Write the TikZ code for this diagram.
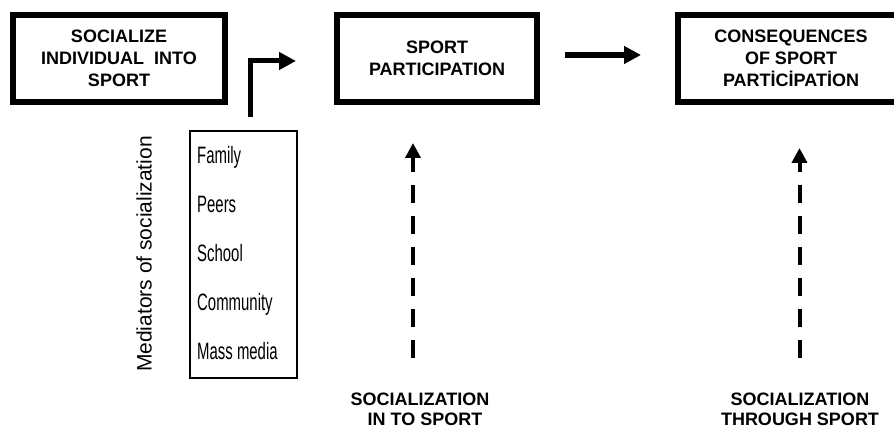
\documentclass[tikz,border=0pt]{standalone}
\usepackage{fontspec}
\setmainfont{Liberation Sans}
\usepackage{graphicx}
\usetikzlibrary{arrows.meta}
\tikzset{
  mainbox/.style={draw, line width=6pt, minimum height=87pt, align=center,
    font=\fontsize{18}{22}\selectfont\bfseries, inner sep=0pt},
  capt/.style={align=center, font=\fontsize{18}{20}\selectfont\bfseries, inner sep=0pt, anchor=north},
  medbox/.style={draw, line width=2.5pt, minimum width=107pt, minimum height=247pt, inner sep=0pt},
  item/.style={anchor=base west, inner sep=0pt, font=\fontsize{23.7}{24}\selectfont},
  thickarrow/.style={line width=5pt, line join=miter, -{Triangle[length=17pt,width=17pt]}},
  dasharrow/.style={line width=4pt, dash pattern=on 18pt off 13pt, -{Triangle[length=15pt,width=15pt]}}
}
\newcommand{\squeeze}[1]{\scalebox{0.63}[1]{#1}}
\begin{document}
\begin{tikzpicture}[x=1pt,y=1pt]
\useasboundingbox (0,0) rectangle (894,433);
\clip (0,0) rectangle (894,433);
% main boxes
\node[mainbox, minimum width=212pt] (b1) at (119,374.5) {SOCIALIZE\\INDIVIDUAL\ \ INTO\\SPORT};
\node[mainbox, minimum width=200pt] (b2) at (437,374.5) {SPORT\\PARTICIPATION};
\node[mainbox, minimum width=226pt] (b3) at (791,374.5) {CONSEQUENCES\\OF SPORT\\PARTİCİPATİON};
% mediators box
\node[medbox] (med) at (243.5,178.5) {};
\node[item] (i1) at (197,269) {\squeeze{Family}};
\node[item] (i2) at (197,220) {\squeeze{Peers}};
\node[item] (i3) at (197,171) {\squeeze{School}};
\node[item] (i4) at (197,122) {\squeeze{Community}};
\node[item] (i5) at (197,73) {\squeeze{Mass media}};
\node[rotate=90, inner sep=0pt, font=\fontsize{21}{21}\selectfont] (lab) at (144,179) {Mediators of socialization};
% captions
\node[capt] (c1) at (420,40) {SOCIALIZATION\\\ \ IN TO SPORT};
\node[capt] (c2) at (800,40) {SOCIALIZATION\\THROUGH SPORT};
% connector coordinates
\coordinate (e1) at (250,316);
\coordinate (e2) at (250,372);
\coordinate (e3) at (296,372);
\coordinate (h1) at (565,378);
\coordinate (h2) at (641,378);
\coordinate (d1s) at (413,75);
\coordinate (d1e) at (413,290);
\coordinate (d2s) at (799.5,75);
\coordinate (d2e) at (799.5,285);
% connectors
\draw[thickarrow] (e1) -- (e2) -- (e3);
\draw[thickarrow, line width=6pt] (h1) -- (h2);
\draw[dasharrow] (d1s) -- (d1e);
\draw[dasharrow] (d2s) -- (d2e);
\end{tikzpicture}
\end{document}
